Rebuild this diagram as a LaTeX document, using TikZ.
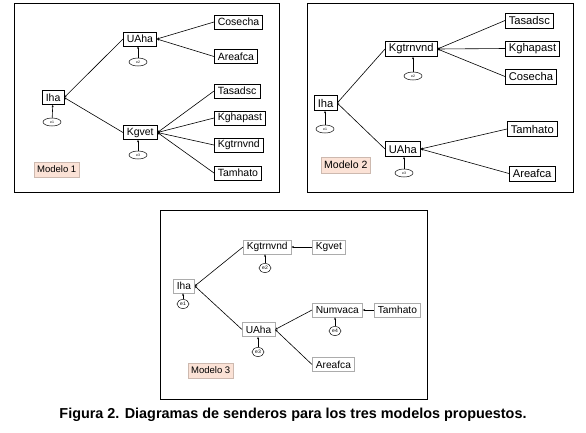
\documentclass[tikz,border=0pt]{standalone}
\usepackage{fontspec}
\setmainfont{Liberation Sans}
\usetikzlibrary{arrows.meta,positioning,shapes.geometric}
\definecolor{modfill}{RGB}{251,226,214}
\definecolor{modline}{RGB}{205,185,175}
\tikzset{
  var/.style={draw,rectangle,anchor=west,inner xsep=3.5pt,inner ysep=0pt,minimum height=14pt,font=\fontsize{10.5}{10.5}\selectfont,line width=0.6pt},
  varb/.style={var,minimum height=15pt,font=\fontsize{11.2}{11.2}\selectfont},
  varc/.style={var,draw=gray!65,font=\fontsize{10.2}{10.2}\selectfont},
  err/.style={draw,ellipse,inner sep=0pt,minimum width=18pt,minimum height=8pt,font=\fontsize{3.5}{3.5}\selectfont,line width=0.5pt},
  errc/.style={err,minimum width=12pt,minimum height=9pt,font=\fontsize{5}{5}\selectfont},
  modelo/.style={draw=modline,fill=modfill,anchor=west,inner xsep=3pt,minimum height=15pt,font=\fontsize{9.5}{9.5}\selectfont},
  path/.style={-{Stealth[length=2.5pt,width=2pt]},line width=0.6pt},
  frame/.style={draw,line width=0.8pt}
}
\begin{document}
\begin{tikzpicture}[x=1pt,y=-1pt]
  \useasboundingbox (0,0) rectangle (586,432);

  % Modelo 1
  \draw[frame] (14,3) rectangle (279,192);
  \node[var] (Iha1) at (42,97.5) {Iha};
  \node[err] (e11) at (52,122) {e1};
  \node[var] (UAha1) at (123,39) {UAha};
  \node[err] (e21) at (138,62) {e2};
  \node[var] (Kgvet1) at (123,132.5) {Kgvet};
  \node[err] (e31) at (138,155) {e3};
  \node[var] (Cosecha1) at (214,22) {Cosecha};
  \node[var] (Areafca1) at (214,56.5) {Areafca};
  \node[var] (Tasadsc1) at (214,91) {Tasadsc};
  \node[var] (Kghapast1) at (214,118) {Kghapast};
  \node[var] (Kgtrnvnd1) at (214,145) {Kgtrnvnd};
  \node[var] (Tamhato1) at (214,173) {Tamhato};
  \node[modelo] (Modelo1) at (34,169.5) {Modelo 1};

  \draw[path] (UAha1.west) -- (Iha1.east);
  \draw[path] (Kgvet1.west) -- (Iha1.east);
  \draw[path] (Cosecha1.west) -- (UAha1.east);
  \draw[path] (Areafca1.west) -- (UAha1.east);
  \draw[path] (Tasadsc1.west) -- (Kgvet1.east);
  \draw[path] (Kghapast1.west) -- (Kgvet1.east);
  \draw[path] (Kgtrnvnd1.west) -- (Kgvet1.east);
  \draw[path] (Tamhato1.west) -- (Kgvet1.east);
  \draw[path] (e11) -- (Iha1);
  \draw[path] (e21) -- (UAha1.south -| e21);
  \draw[path] (e31) -- (Kgvet1.south -| e31);

  % Modelo 2
  \draw[frame] (307,3) rectangle (573,192);
  \node[varb] (Iha2) at (314,103) {Iha};
  \node[err] (e12) at (325,129) {e1};
  \node[varb] (Kgtrnvnd2) at (385,49) {Kgtrnvnd};
  \node[err] (e22) at (413,76) {e2};
  \node[varb] (UAha2) at (385,149) {UAha};
  \node[err] (e32) at (404,173) {e3};
  \node[varb] (Tasadsc2) at (505,20.5) {Tasadsc};
  \node[varb] (Kghapast2) at (505,48.5) {Kghapast};
  \node[varb] (Cosecha2) at (505,76.5) {Cosecha};
  \node[varb] (Tamhato2) at (507,129) {Tamhato};
  \node[varb] (Areafca2) at (509,173.5) {Areafca};
  \node[modelo,font=\fontsize{10.5}{10.5}\selectfont,minimum height=16pt] (Modelo2) at (321,165) {Modelo 2};

  \draw[path] (Kgtrnvnd2.west) -- (Iha2.east);
  \draw[path] (UAha2.west) -- (Iha2.east);
  \draw[path] (Tasadsc2.west) -- (Kgtrnvnd2.east);
  \draw[path] (Kghapast2.west) -- (Kgtrnvnd2.east);
  \draw[path] (Cosecha2.west) -- (Kgtrnvnd2.east);
  \draw[path] (Tamhato2.west) -- (UAha2.east);
  \draw[path] (Areafca2.west) -- (UAha2.east);
  \draw[path] (e12) -- (Iha2.south -| e12);
  \draw[path] (e22) -- (Kgtrnvnd2.south -| e22);
  \draw[path] (e32) -- (UAha2.south -| e32);

  % Modelo 3
  \draw[frame] (160,210) rectangle (427,399);
  \node[varc] (Iha3) at (173,286) {Iha};
  \node[errc] (e13) at (183,304) {e1};
  \node[varc] (Kgtrnvnd3) at (243,247) {Kgtrnvnd};
  \node[errc] (e23) at (265,268) {e2};
  \node[varc] (Kgvet3) at (312,247) {Kgvet};
  \node[varc] (UAha3) at (242,329.5) {UAha};
  \node[errc] (e33) at (258,352) {e3};
  \node[varc] (Numvaca3) at (312,310) {Numvaca};
  \node[errc] (e43) at (335,331) {e4};
  \node[varc] (Tamhato3) at (374,310) {Tamhato};
  \node[varc] (Areafca3) at (312,364.5) {Areafca};
  \node[modelo] (Modelo3) at (188,370.5) {Modelo 3};

  \draw[path] (Kgtrnvnd3.west) -- (Iha3.east);
  \draw[path] (UAha3.west) -- (Iha3.east);
  \draw[path] (Kgvet3.west) -- (Kgtrnvnd3.east);
  \draw[path] (Numvaca3.west) -- (UAha3.east);
  \draw[path] (Areafca3.west) -- (UAha3.east);
  \draw[path] (Tamhato3.west) -- (Numvaca3.east);
  \draw[path] (e13) -- (Iha3.south -| e13);
  \draw[path] (e23) -- (Kgtrnvnd3.south -| e23);
  \draw[path] (e33) -- (UAha3.south -| e33);
  \draw[path] (e43) -- (Numvaca3.south -| e43);

  \node[font=\bfseries\fontsize{14.4}{14.4}\selectfont] (caption) at (293,415) {Figura 2. Diagramas de senderos para los tres modelos propuestos.};
\end{tikzpicture}
\end{document}
